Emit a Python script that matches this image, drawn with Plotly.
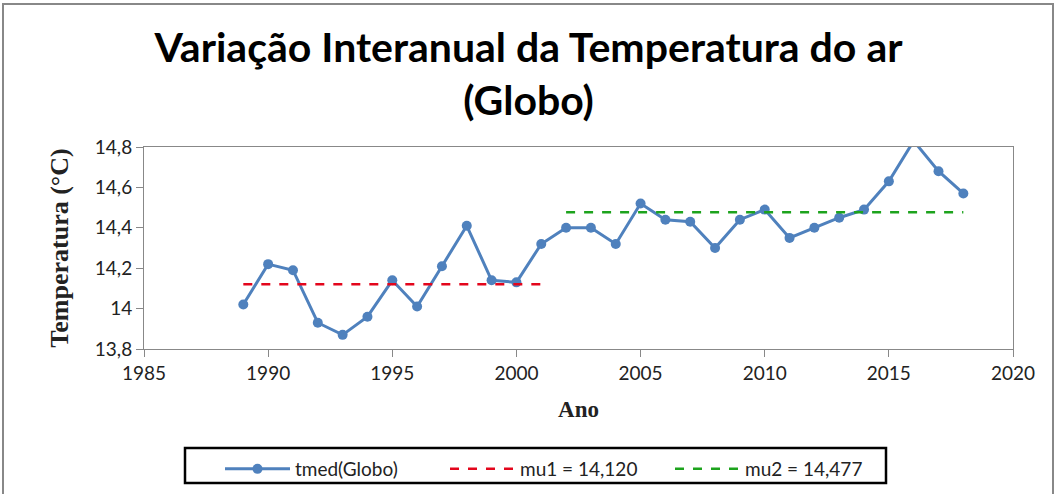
import plotly.graph_objects as go

anos = list(range(1989, 2019))
tmed = [14.02, 14.22, 14.19, 13.93, 13.87, 13.96, 14.14, 14.01, 14.21, 14.41,
        14.14, 14.13, 14.32, 14.40, 14.40, 14.32, 14.52, 14.44, 14.43, 14.30,
        14.44, 14.49, 14.35, 14.40, 14.45, 14.49, 14.63, 14.83, 14.68, 14.57]
mu1_anos = [1989, 2001]
mu1_val = [14.120, 14.120]
mu2_anos = [2002, 2018]
mu2_val = [14.477, 14.477]

SANS = "Lato, Open Sans, sans-serif"

fig = go.Figure()
fig.add_trace(go.Scatter(x=anos, y=tmed, mode="lines+markers", name="tmed(Globo)",
                         line=dict(color="#4F81BD", width=3),
                         marker=dict(color="#4F81BD", size=10)))
fig.add_trace(go.Scatter(x=mu1_anos, y=mu1_val, mode="lines", name="mu1 = 14,120",
                         line=dict(color="#E3061C", width=2.5, dash="dash")))
fig.add_trace(go.Scatter(x=mu2_anos, y=mu2_val, mode="lines", name="mu2 = 14,477",
                         line=dict(color="#1DA31D", width=2.5, dash="dash")))

L, R, T, B = 144, 44, 147, 145
W, H = 1057, 494
pw, ph = W - L - R, H - T - B

def px(x):
    return (x - L) / pw

def py(y):
    return (H - B - y) / ph

fig.update_layout(
    width=W, height=H,
    margin=dict(l=L, r=R, t=T, b=B, autoexpand=False),
    paper_bgcolor="white", plot_bgcolor="white",
    separators=", ",
    title=dict(text="<b>Variação Interanual da Temperatura do ar<br>(Globo)</b>",
               x=0.5, xref="container", xanchor="center",
               y=1 - 62 / H, yref="container", yanchor="middle",
               font=dict(family=SANS, size=41, color="black")),
    font=dict(family=SANS, color="#222"),
    xaxis=dict(range=[1985, 2020], dtick=5, tick0=1985, showgrid=False, zeroline=False,
               showline=True, linecolor="#888", linewidth=1, mirror=True,
               ticks="outside", ticklen=7, tickcolor="#888",
               tickfont=dict(size=19, family=SANS, color="#222"),
               title=dict(text="<b>Ano</b>", standoff=18,
                          font=dict(family="Liberation Serif, serif", size=23, color="#222"))),
    yaxis=dict(range=[13.8, 14.8], dtick=0.2, tick0=13.8, showgrid=False, zeroline=False,
               showline=True, linecolor="#888", linewidth=1, mirror=True,
               ticks="outside", ticklen=7, tickcolor="#888",
               tickfont=dict(size=19, family=SANS, color="#222"),
               title=dict(text="<b>Temperatura (°C)</b>", standoff=18,
                          font=dict(family="Liberation Serif, serif", size=26, color="#222"))),
    legend=dict(orientation="h", x=px(220), xanchor="left", y=py(450), yanchor="top",
                borderwidth=0, bgcolor="rgba(0,0,0,0)",
                font=dict(size=19, family=SANS, color="#222"),
                itemwidth=65, entrywidth=145, entrywidthmode="pixels",
                traceorder="normal"),
    showlegend=True,
)

# outer chart frame
fig.add_shape(type="rect", xref="paper", yref="paper",
              x0=px(3), x1=px(1053), y0=py(494 + 5), y1=py(4),
              line=dict(color="#888", width=2), fillcolor="rgba(0,0,0,0)", layer="below")
# legend box
fig.add_shape(type="rect", xref="paper", yref="paper",
              x0=px(185), x1=px(886), y0=py(483), y1=py(448),
              line=dict(color="black", width=2.5), fillcolor="white", layer="below")

fig.write_html("out.html", config={"displayModeBar": False},
               post_script="document.body.style.margin='0';")
